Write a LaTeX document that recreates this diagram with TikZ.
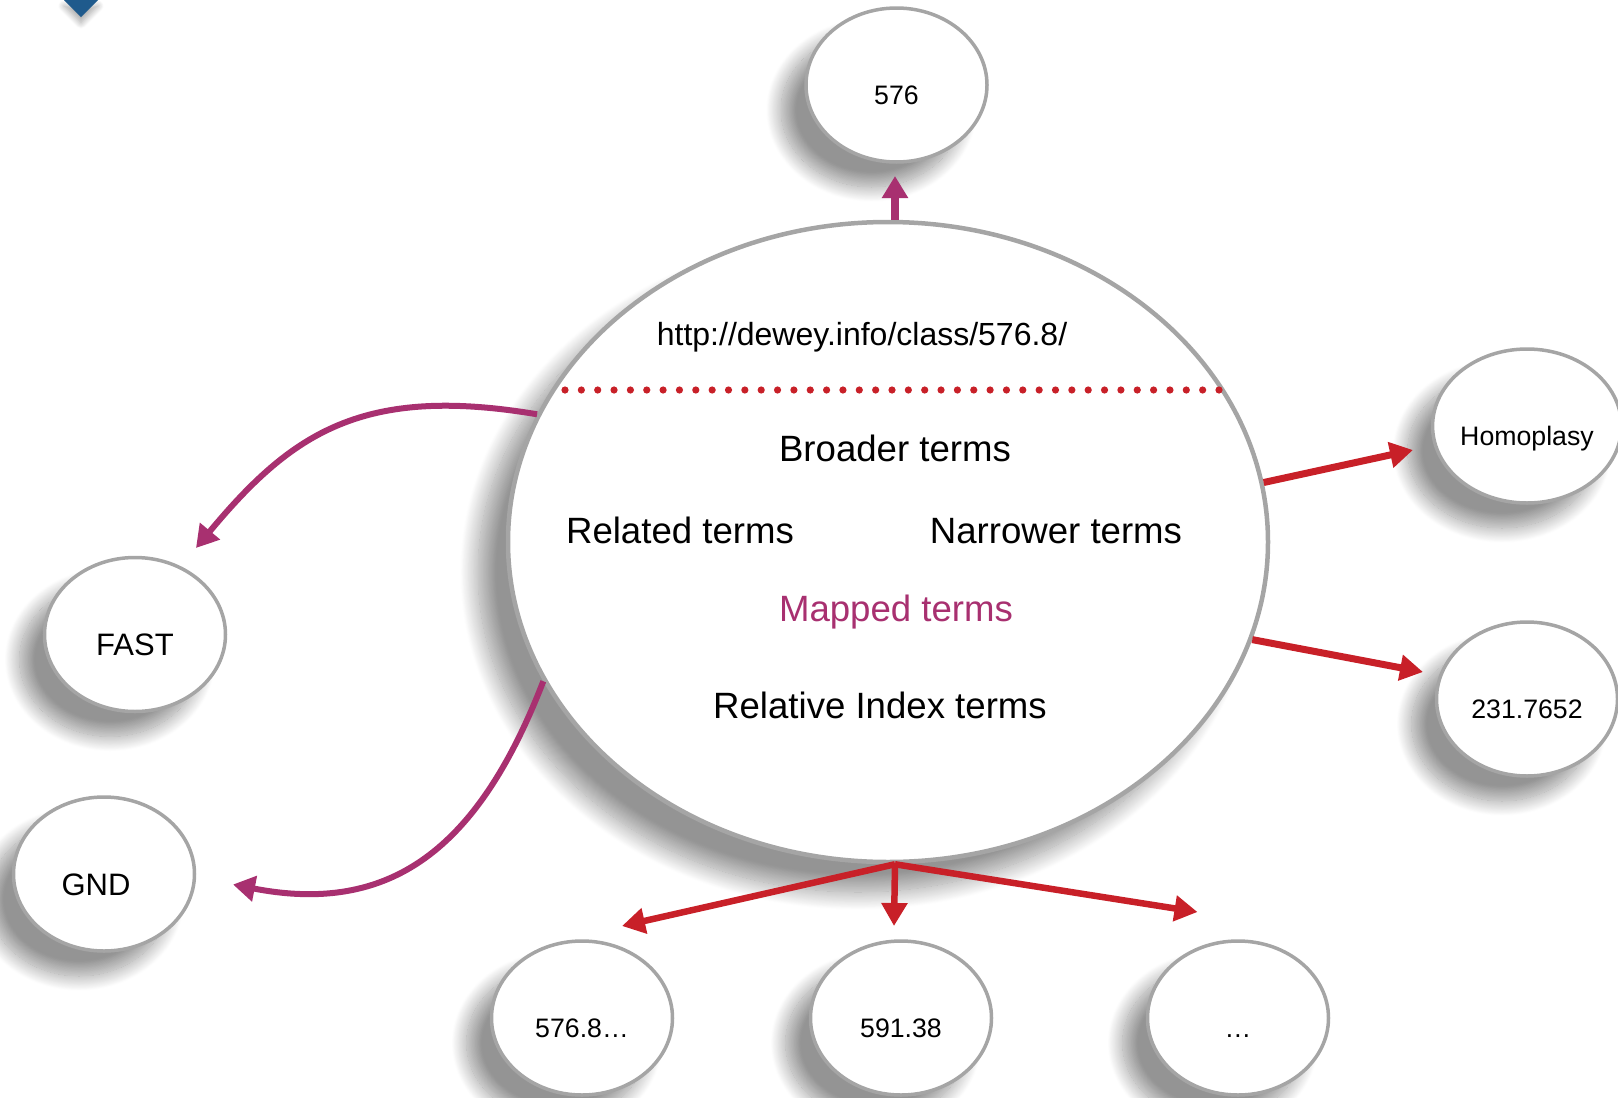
\documentclass[tikz,border=0pt]{standalone}
\usepackage{fontspec}
\setmainfont{Liberation Sans}
\usetikzlibrary{shapes.geometric,arrows.meta,shadows.blur,calc}
\definecolor{magc}{RGB}{168,48,112}
\definecolor{redc}{RGB}{200,32,40}
\definecolor{bluec}{RGB}{31,90,140}
\definecolor{rimc}{RGB}{165,165,165}
\newcommand\lowtxt[1]{\raisebox{-10pt}[0.72em][0pt]{#1}}
\begin{document}
\begin{tikzpicture}[x=1pt,y=-1pt,
  bub/.style={ellipse, draw=rimc, line width=3.5pt, fill=white,
    minimum width=181pt, minimum height=154pt, inner sep=0pt,
    blur shadow={shadow xshift=-25pt, shadow yshift=-25pt, shadow blur radius=15pt, shadow opacity=42, shadow blur steps=25},
    font=\fontsize{26.7}{30}\selectfont},
  bigbub/.style={ellipse, draw=rimc, line width=4.5pt, fill=white,
    minimum width=760pt, minimum height=640pt, inner sep=0pt,
    blur shadow={shadow xshift=-30pt, shadow yshift=-30pt, shadow blur radius=18pt, shadow opacity=42, shadow blur steps=25}},
  txt/.style={anchor=base, inner sep=0pt, font=\fontsize{36.6}{40}\selectfont},
  redarrow/.style={draw=redc, line width=7pt, -{Triangle[length=23pt,width=25pt]}},
  magarrow/.style={draw=magc, line width=6pt, -{Triangle[length=22pt,width=25pt]}},
]
\useasboundingbox (0,0) rectangle (1618,1098);

% blue corner mark
\fill[bluec, blur shadow={shadow xshift=0pt, shadow yshift=-6pt, shadow blur radius=6pt, shadow opacity=35, shadow blur steps=15}] (64,0) -- (98,0) -- (81,17) -- cycle;

% main ellipse
\node[bigbub] (main) at (888,542) {};

% dotted separator
\foreach \i in {0,...,40} \fill[redc] ({565+\i*16.35},390) circle (3.6pt);

% main texts
\node[txt, font=\fontsize{32}{36}\selectfont] (url) at (862,345.5) {http://dewey.info/class/576.8/};
\node[txt] (broader) at (895,461) {Broader terms};
\node[txt] (related) at (680,543) {Related terms};
\node[txt] (narrower) at (1056,543) {Narrower terms};
\node[txt, text=magc] (mapped) at (896,621) {Mapped terms};
\node[txt] (relidx) at (880,718) {Relative Index terms};

% satellite bubbles
\node[bub] (n576) at (896.5,85) {\lowtxt{576}};
\node[bub] (homo) at (1527,426) {\lowtxt{Homoplasy}};
\node[bub] (n231) at (1527,699) {\lowtxt{231.7652}};
\node[bub, font=\fontsize{31}{34}\selectfont] (fast) at (135,634.5) {\lowtxt{FAST}};
\node[bub, font=\fontsize{31}{34}\selectfont] (gnd) at (104,874) {\lowtxt{\kern-16pt GND}};
\node[bub] (b1) at (582,1018) {\lowtxt{576.8\ldots}};
\node[bub] (b2) at (901,1018) {\lowtxt{591.38}};
\node[bub] (b3) at (1238,1018) {\lowtxt{\ldots}};

% arrow end points
\coordinate (topTip) at (895,176);
\coordinate (fastTip) at (196,548);
\coordinate (gndTip) at (233,884.5);
\coordinate (homTip) at (1413,450);
\coordinate (numTip) at (1423,672);
\coordinate (hub) at ($(main.south)+(7,0)$);
\coordinate (b1Tip) at (622,926);
\coordinate (b2Tip) at (894,926);
\coordinate (b3Tip) at (1197.5,912);

% connectors
\draw[magarrow, line width=8pt] ($(main.north)+(7,0)$) -- (topTip);
\draw[magarrow] (main.160.7) .. controls (363,385) and (292,432.5) .. (fastTip);
\draw[magarrow] (main.202.6) .. controls (478,850) and (390,915) .. (gndTip);
\draw[redarrow] (main.9) -- (homTip);
\draw[redarrow] (main.-15) -- (numTip);
\draw[redarrow, line width=6.5pt] (hub) -- (b1Tip);
\draw[redarrow, line width=6.5pt] (hub) -- (b2Tip);
\draw[redarrow, line width=6.5pt] (hub) -- (b3Tip);
\end{tikzpicture}
\end{document}
